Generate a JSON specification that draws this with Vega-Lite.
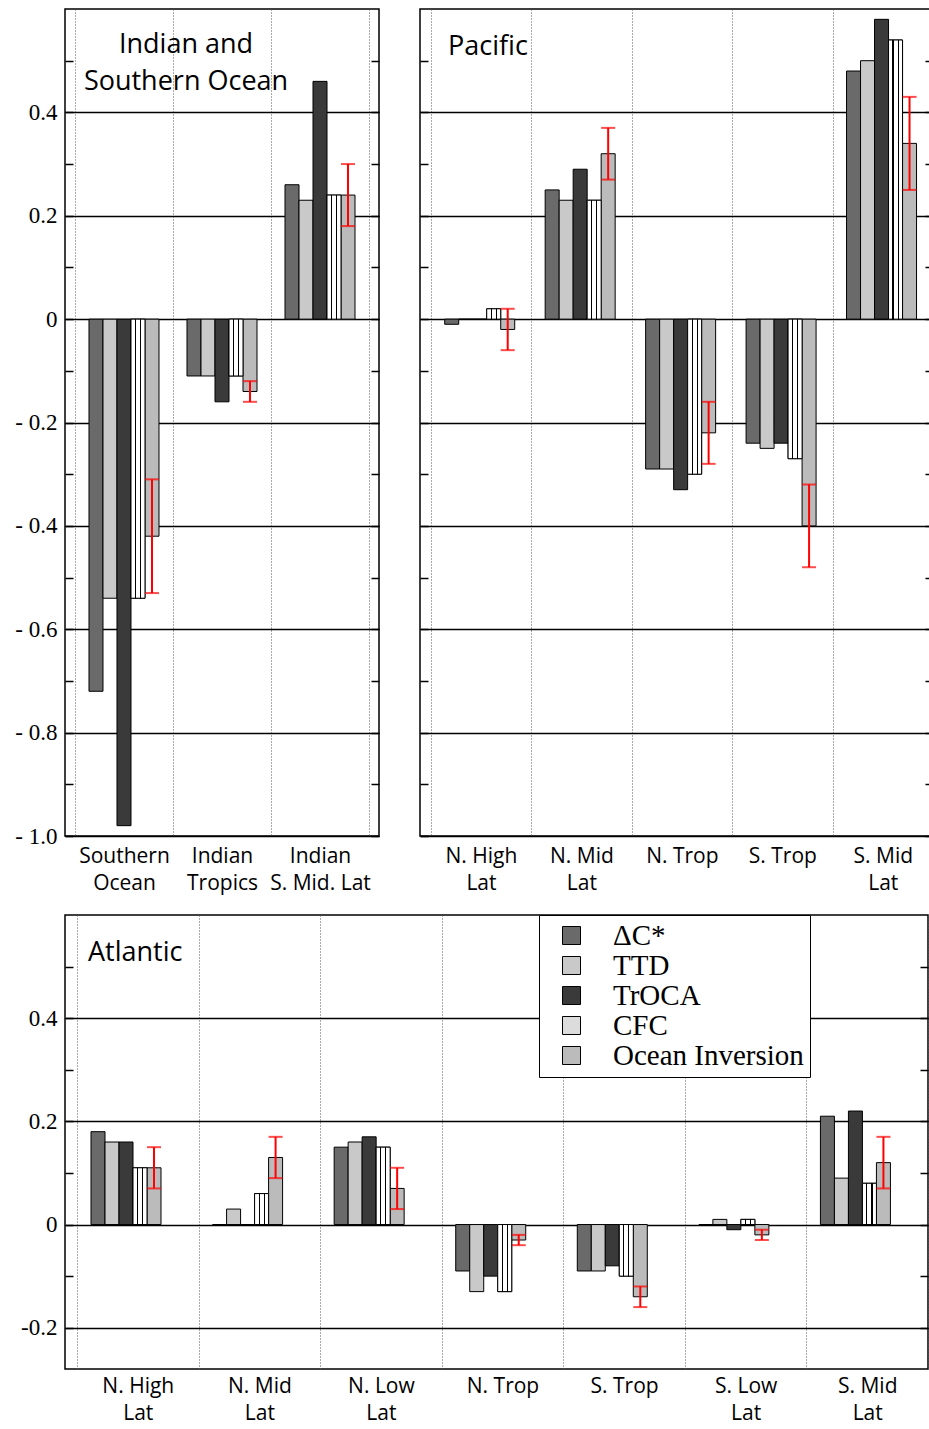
{
  "$schema": "https://vega.github.io/schema/vega-lite/v6.json",
  "padding": {"left": 14, "top": 8, "right": 0, "bottom": 0},
  "background": "#ffffff",
  "config": {
    "view": {"stroke": "#000000", "strokeWidth": 1.5},
    "font": "Open Sans",
    "axis": {"labelColor": "#000000", "tickColor": "#000000"}
  },
  "datasets": {
    "rows": [
      {"ocean": "Indian", "region": "Southern Ocean", "method": "ΔC*", "value": -0.72},
      {"ocean": "Indian", "region": "Southern Ocean", "method": "TTD", "value": -0.54},
      {"ocean": "Indian", "region": "Southern Ocean", "method": "TrOCA", "value": -0.98},
      {"ocean": "Indian", "region": "Southern Ocean", "method": "CFC", "value": -0.54},
      {"ocean": "Indian", "region": "Southern Ocean", "method": "Ocean Inversion", "value": -0.42, "lo": -0.53, "hi": -0.31},
      {"ocean": "Indian", "region": "Indian Tropics", "method": "ΔC*", "value": -0.11},
      {"ocean": "Indian", "region": "Indian Tropics", "method": "TTD", "value": -0.11},
      {"ocean": "Indian", "region": "Indian Tropics", "method": "TrOCA", "value": -0.16},
      {"ocean": "Indian", "region": "Indian Tropics", "method": "CFC", "value": -0.11},
      {"ocean": "Indian", "region": "Indian Tropics", "method": "Ocean Inversion", "value": -0.14, "lo": -0.16, "hi": -0.12},
      {"ocean": "Indian", "region": "Indian S. Mid. Lat", "method": "ΔC*", "value": 0.26},
      {"ocean": "Indian", "region": "Indian S. Mid. Lat", "method": "TTD", "value": 0.23},
      {"ocean": "Indian", "region": "Indian S. Mid. Lat", "method": "TrOCA", "value": 0.46},
      {"ocean": "Indian", "region": "Indian S. Mid. Lat", "method": "CFC", "value": 0.24},
      {"ocean": "Indian", "region": "Indian S. Mid. Lat", "method": "Ocean Inversion", "value": 0.24, "lo": 0.18, "hi": 0.30},

      {"ocean": "Pacific", "region": "N. High Lat", "method": "ΔC*", "value": -0.01},
      {"ocean": "Pacific", "region": "N. High Lat", "method": "TTD", "value": 0},
      {"ocean": "Pacific", "region": "N. High Lat", "method": "TrOCA", "value": 0},
      {"ocean": "Pacific", "region": "N. High Lat", "method": "CFC", "value": 0.02},
      {"ocean": "Pacific", "region": "N. High Lat", "method": "Ocean Inversion", "value": -0.02, "lo": -0.06, "hi": 0.02},
      {"ocean": "Pacific", "region": "N. Mid Lat", "method": "ΔC*", "value": 0.25},
      {"ocean": "Pacific", "region": "N. Mid Lat", "method": "TTD", "value": 0.23},
      {"ocean": "Pacific", "region": "N. Mid Lat", "method": "TrOCA", "value": 0.29},
      {"ocean": "Pacific", "region": "N. Mid Lat", "method": "CFC", "value": 0.23},
      {"ocean": "Pacific", "region": "N. Mid Lat", "method": "Ocean Inversion", "value": 0.32, "lo": 0.27, "hi": 0.37},
      {"ocean": "Pacific", "region": "N. Trop", "method": "ΔC*", "value": -0.29},
      {"ocean": "Pacific", "region": "N. Trop", "method": "TTD", "value": -0.29},
      {"ocean": "Pacific", "region": "N. Trop", "method": "TrOCA", "value": -0.33},
      {"ocean": "Pacific", "region": "N. Trop", "method": "CFC", "value": -0.30},
      {"ocean": "Pacific", "region": "N. Trop", "method": "Ocean Inversion", "value": -0.22, "lo": -0.28, "hi": -0.16},
      {"ocean": "Pacific", "region": "S. Trop", "method": "ΔC*", "value": -0.24},
      {"ocean": "Pacific", "region": "S. Trop", "method": "TTD", "value": -0.25},
      {"ocean": "Pacific", "region": "S. Trop", "method": "TrOCA", "value": -0.24},
      {"ocean": "Pacific", "region": "S. Trop", "method": "CFC", "value": -0.27},
      {"ocean": "Pacific", "region": "S. Trop", "method": "Ocean Inversion", "value": -0.40, "lo": -0.48, "hi": -0.32},
      {"ocean": "Pacific", "region": "S. Mid Lat", "method": "ΔC*", "value": 0.48},
      {"ocean": "Pacific", "region": "S. Mid Lat", "method": "TTD", "value": 0.50},
      {"ocean": "Pacific", "region": "S. Mid Lat", "method": "TrOCA", "value": 0.58},
      {"ocean": "Pacific", "region": "S. Mid Lat", "method": "CFC", "value": 0.54},
      {"ocean": "Pacific", "region": "S. Mid Lat", "method": "Ocean Inversion", "value": 0.34, "lo": 0.25, "hi": 0.43},

      {"ocean": "Atlantic", "region": "N. High Lat", "method": "ΔC*", "value": 0.18},
      {"ocean": "Atlantic", "region": "N. High Lat", "method": "TTD", "value": 0.16},
      {"ocean": "Atlantic", "region": "N. High Lat", "method": "TrOCA", "value": 0.16},
      {"ocean": "Atlantic", "region": "N. High Lat", "method": "CFC", "value": 0.11},
      {"ocean": "Atlantic", "region": "N. High Lat", "method": "Ocean Inversion", "value": 0.11, "lo": 0.07, "hi": 0.15},
      {"ocean": "Atlantic", "region": "N. Mid Lat", "method": "ΔC*", "value": 0},
      {"ocean": "Atlantic", "region": "N. Mid Lat", "method": "TTD", "value": 0.03},
      {"ocean": "Atlantic", "region": "N. Mid Lat", "method": "TrOCA", "value": 0},
      {"ocean": "Atlantic", "region": "N. Mid Lat", "method": "CFC", "value": 0.06},
      {"ocean": "Atlantic", "region": "N. Mid Lat", "method": "Ocean Inversion", "value": 0.13, "lo": 0.09, "hi": 0.17},
      {"ocean": "Atlantic", "region": "N. Low Lat", "method": "ΔC*", "value": 0.15},
      {"ocean": "Atlantic", "region": "N. Low Lat", "method": "TTD", "value": 0.16},
      {"ocean": "Atlantic", "region": "N. Low Lat", "method": "TrOCA", "value": 0.17},
      {"ocean": "Atlantic", "region": "N. Low Lat", "method": "CFC", "value": 0.15},
      {"ocean": "Atlantic", "region": "N. Low Lat", "method": "Ocean Inversion", "value": 0.07, "lo": 0.03, "hi": 0.11},
      {"ocean": "Atlantic", "region": "N. Trop", "method": "ΔC*", "value": -0.09},
      {"ocean": "Atlantic", "region": "N. Trop", "method": "TTD", "value": -0.13},
      {"ocean": "Atlantic", "region": "N. Trop", "method": "TrOCA", "value": -0.10},
      {"ocean": "Atlantic", "region": "N. Trop", "method": "CFC", "value": -0.13},
      {"ocean": "Atlantic", "region": "N. Trop", "method": "Ocean Inversion", "value": -0.03, "lo": -0.04, "hi": -0.02},
      {"ocean": "Atlantic", "region": "S. Trop", "method": "ΔC*", "value": -0.09},
      {"ocean": "Atlantic", "region": "S. Trop", "method": "TTD", "value": -0.09},
      {"ocean": "Atlantic", "region": "S. Trop", "method": "TrOCA", "value": -0.08},
      {"ocean": "Atlantic", "region": "S. Trop", "method": "CFC", "value": -0.10},
      {"ocean": "Atlantic", "region": "S. Trop", "method": "Ocean Inversion", "value": -0.14, "lo": -0.16, "hi": -0.12},
      {"ocean": "Atlantic", "region": "S. Low Lat", "method": "ΔC*", "value": 0},
      {"ocean": "Atlantic", "region": "S. Low Lat", "method": "TTD", "value": 0.01},
      {"ocean": "Atlantic", "region": "S. Low Lat", "method": "TrOCA", "value": -0.01},
      {"ocean": "Atlantic", "region": "S. Low Lat", "method": "CFC", "value": 0.01},
      {"ocean": "Atlantic", "region": "S. Low Lat", "method": "Ocean Inversion", "value": -0.02, "lo": -0.03, "hi": -0.01},
      {"ocean": "Atlantic", "region": "S. Mid Lat", "method": "ΔC*", "value": 0.21},
      {"ocean": "Atlantic", "region": "S. Mid Lat", "method": "TTD", "value": 0.09},
      {"ocean": "Atlantic", "region": "S. Mid Lat", "method": "TrOCA", "value": 0.22},
      {"ocean": "Atlantic", "region": "S. Mid Lat", "method": "CFC", "value": 0.08},
      {"ocean": "Atlantic", "region": "S. Mid Lat", "method": "Ocean Inversion", "value": 0.12, "lo": 0.07, "hi": 0.17}
    ]
  },
  "vconcat": [
    {
      "hconcat": [
        {
          "width": 314,
          "height": 827,
          "title": {"text": ["Indian and", "Southern Ocean"], "anchor": "start", "align": "center", "frame": "group", "dx": 121, "dy": 87, "offset": 0, "baseline": "top", "font": "Open Sans", "fontSize": 27, "fontWeight": "normal", "lineHeight": 37, "color": "#000000"},
          "data": {"name": "rows"},
          "transform": [{"filter": "datum.ocean == 'Indian'"}],
          "encoding": {
            "x": {"field": "region", "type": "nominal", "sort": ["Southern Ocean", "Indian Tropics", "Indian S. Mid. Lat"],
                  "scale": {"paddingInner": 0, "paddingOuter": 0.102},
                  "axis": {"title": null, "ticks": false, "domain": false, "grid": true, "gridDash": [1, 2], "gridColor": "#555555", "gridWidth": 1, "tickBand": "extent",
                           "labelAngle": 0, "labelFont": "Open Sans", "labelFontSize": 21, "labelLineHeight": 27, "labelPadding": 9, "labelColor": "#000000",
                           "labelExpr": "indexof(datum.label, ' ') > 0 ? [substring(datum.label, 0, indexof(datum.label, ' ')), substring(datum.label, indexof(datum.label, ' ') + 1)] : datum.label"}},
            "xOffset": {"field": "method", "type": "nominal", "scale": {"domain": ["ΔC*", "TTD", "TrOCA", "CFC", "Ocean Inversion"], "paddingInner": 0, "paddingOuter": 1.81}}
          },
          "layer": [
            {
              "mark": {"type": "bar", "stroke": "#000000", "strokeWidth": 1},
              "encoding": {
                "y": {"field": "value", "type": "quantitative", "scale": {"domain": [-1.0, 0.6], "nice": false, "zero": false},
                      "axis": {"orient": "left", "title": null, "domain": false, "minExtent": 0, "labelFlush": false, "labelOverlap": false,
                               "values": [-1, -0.9, -0.8, -0.7, -0.6, -0.5, -0.4, -0.3, -0.2, -0.1, 0, 0.1, 0.2, 0.3, 0.4, 0.5],
                               "tickSize": -8, "tickWidth": 1.5, "tickColor": "#000000",
                               "grid": true, "gridColor": "#000000", "gridWidth": 1.5,
                               "gridOpacity": {"condition": {"test": "abs(datum.value * 5 - round(datum.value * 5)) < 0.001", "value": 1}, "value": 0},
                               "labelFont": "Liberation Serif", "labelFontSize": 23, "labelPadding": 16, "labelColor": "#000000",
                               "labelExpr": "abs(datum.value * 5 - round(datum.value * 5)) < 0.001 ? (datum.value < -0.001 ? '- ' + format(-datum.value, '.1f') : (abs(datum.value) < 0.001 ? '0' : format(datum.value, '.1f'))) : ''"}},
                "fill": {"field": "method", "type": "nominal", "legend": null,
                         "scale": {"domain": ["ΔC*", "TTD", "TrOCA", "CFC", "Ocean Inversion"],
                                   "range": ["#6a6a6a", "#c9c9c9", "#3a3a3a", "#dcdcdc", "#bbbbbb"]}}
              }
            },
            {
              "transform": [{"filter": "datum.method == 'CFC'"}],
              "mark": {"type": "bar", "stroke": "#000000", "strokeWidth": 1,
                       "fill": {"gradient": "linear", "x1": 0, "y1": 0, "x2": 1, "y2": 0, "stops": [{"offset": 0, "color": "#ffffff"}, {"offset": 0.28, "color": "#ffffff"}, {"offset": 0.28, "color": "#000000"}, {"offset": 0.36, "color": "#000000"}, {"offset": 0.36, "color": "#ffffff"}, {"offset": 0.64, "color": "#ffffff"}, {"offset": 0.64, "color": "#000000"}, {"offset": 0.72, "color": "#000000"}, {"offset": 0.72, "color": "#ffffff"}, {"offset": 1, "color": "#ffffff"}]}},
              "encoding": {"y": {"field": "value", "type": "quantitative", "axis": null}}
            },
            {
              "transform": [{"filter": "datum.method == 'Ocean Inversion'"}],
              "mark": {"type": "rule", "color": "#ff0000", "strokeWidth": 2},
              "encoding": {
                "y": {"field": "lo", "type": "quantitative",
                      "axis": {"orient": "right", "title": null, "domain": false, "labels": false, "grid": false, "minExtent": 0,
                               "values": [-1, -0.9, -0.8, -0.7, -0.6, -0.5, -0.4, -0.3, -0.2, -0.1, 0, 0.1, 0.2, 0.3, 0.4, 0.5],
                               "tickSize": -8, "tickWidth": 1.5, "tickColor": "#000000"}},
                "y2": {"field": "hi"}
              }
            },
            {
              "transform": [{"filter": "datum.method == 'Ocean Inversion'"}],
              "mark": {"type": "tick", "orient": "horizontal", "color": "#ff0000", "thickness": 2, "size": 14},
              "encoding": {"y": {"field": "lo", "type": "quantitative", "axis": null}}
            },
            {
              "transform": [{"filter": "datum.method == 'Ocean Inversion'"}],
              "mark": {"type": "tick", "orient": "horizontal", "color": "#ff0000", "thickness": 2, "size": 14},
              "encoding": {"y": {"field": "hi", "type": "quantitative", "axis": null}}
            }
          ],
          "resolve": {"axis": {"y": "independent"}}
        },
        {
          "width": 513,
          "height": 827,
          "title": {"text": "Pacific", "anchor": "start", "align": "left", "frame": "group", "dx": 28, "dy": 52, "offset": 0, "baseline": "top", "font": "Open Sans", "fontSize": 27, "fontWeight": "normal", "color": "#000000"},
          "data": {"name": "rows"},
          "transform": [{"filter": "datum.ocean == 'Pacific'"}],
          "encoding": {
            "x": {"field": "region", "type": "nominal", "sort": ["N. High Lat", "N. Mid Lat", "N. Trop", "S. Trop", "S. Mid Lat"],
                  "scale": {"paddingInner": 0, "paddingOuter": 0.0533, "align": 1},
                  "axis": {"title": null, "ticks": false, "domain": false, "grid": true, "gridDash": [1, 2], "gridColor": "#555555", "gridWidth": 1, "tickBand": "extent",
                           "labelAngle": 0, "labelFont": "Open Sans", "labelFontSize": 21, "labelLineHeight": 27, "labelPadding": 9, "labelColor": "#000000",
                           "labelExpr": "indexof(datum.label, ' Lat') > 0 ? [substring(datum.label, 0, indexof(datum.label, ' Lat')), 'Lat'] : datum.label"}},
            "xOffset": {"field": "method", "type": "nominal", "scale": {"domain": ["ΔC*", "TTD", "TrOCA", "CFC", "Ocean Inversion"], "paddingInner": 0, "paddingOuter": 1.81}}
          },
          "layer": [
            {
              "mark": {"type": "bar", "stroke": "#000000", "strokeWidth": 1},
              "encoding": {
                "y": {"field": "value", "type": "quantitative", "scale": {"domain": [-1.0, 0.6], "nice": false, "zero": false},
                      "axis": {"orient": "left", "title": null, "domain": false, "labels": false, "minExtent": 0,
                               "values": [-1, -0.9, -0.8, -0.7, -0.6, -0.5, -0.4, -0.3, -0.2, -0.1, 0, 0.1, 0.2, 0.3, 0.4, 0.5],
                               "tickSize": -8, "tickWidth": 1.5, "tickColor": "#000000",
                               "grid": true, "gridColor": "#000000", "gridWidth": 1.5,
                               "gridOpacity": {"condition": {"test": "abs(datum.value * 5 - round(datum.value * 5)) < 0.001", "value": 1}, "value": 0}}},
                "fill": {"field": "method", "type": "nominal", "legend": null,
                         "scale": {"domain": ["ΔC*", "TTD", "TrOCA", "CFC", "Ocean Inversion"],
                                   "range": ["#6a6a6a", "#c9c9c9", "#3a3a3a", "#dcdcdc", "#bbbbbb"]}}
              }
            },
            {
              "transform": [{"filter": "datum.method == 'CFC'"}],
              "mark": {"type": "bar", "stroke": "#000000", "strokeWidth": 1,
                       "fill": {"gradient": "linear", "x1": 0, "y1": 0, "x2": 1, "y2": 0, "stops": [{"offset": 0, "color": "#ffffff"}, {"offset": 0.28, "color": "#ffffff"}, {"offset": 0.28, "color": "#000000"}, {"offset": 0.36, "color": "#000000"}, {"offset": 0.36, "color": "#ffffff"}, {"offset": 0.64, "color": "#ffffff"}, {"offset": 0.64, "color": "#000000"}, {"offset": 0.72, "color": "#000000"}, {"offset": 0.72, "color": "#ffffff"}, {"offset": 1, "color": "#ffffff"}]}},
              "encoding": {"y": {"field": "value", "type": "quantitative", "axis": null}}
            },
            {
              "transform": [{"filter": "datum.method == 'Ocean Inversion'"}],
              "mark": {"type": "rule", "color": "#ff0000", "strokeWidth": 2},
              "encoding": {
                "y": {"field": "lo", "type": "quantitative",
                      "axis": {"orient": "right", "title": null, "domain": false, "labels": false, "grid": false, "minExtent": 0,
                               "values": [-1, -0.9, -0.8, -0.7, -0.6, -0.5, -0.4, -0.3, -0.2, -0.1, 0, 0.1, 0.2, 0.3, 0.4, 0.5],
                               "tickSize": -8, "tickWidth": 1.5, "tickColor": "#000000"}},
                "y2": {"field": "hi"}
              }
            },
            {
              "transform": [{"filter": "datum.method == 'Ocean Inversion'"}],
              "mark": {"type": "tick", "orient": "horizontal", "color": "#ff0000", "thickness": 2, "size": 14},
              "encoding": {"y": {"field": "lo", "type": "quantitative", "axis": null}}
            },
            {
              "transform": [{"filter": "datum.method == 'Ocean Inversion'"}],
              "mark": {"type": "tick", "orient": "horizontal", "color": "#ff0000", "thickness": 2, "size": 14},
              "encoding": {"y": {"field": "hi", "type": "quantitative", "axis": null}}
            }
          ],
          "resolve": {"axis": {"y": "independent"}}
        }
      ],
      "spacing": 37
    },
    {
      "width": 863,
      "height": 454,
      "title": {"text": "Atlantic", "anchor": "start", "align": "left", "frame": "group", "dx": 23, "dy": 52, "offset": 0, "baseline": "top", "font": "Open Sans", "fontSize": 27, "fontWeight": "normal", "color": "#000000"},
      "data": {"name": "rows"},
      "transform": [{"filter": "datum.ocean == 'Atlantic'"}],
      "encoding": {
        "x": {"field": "region", "type": "nominal", "sort": ["N. High Lat", "N. Mid Lat", "N. Low Lat", "N. Trop", "S. Trop", "S. Low Lat", "S. Mid Lat"],
              "scale": {"paddingInner": 0, "paddingOuter": 0.0494, "align": 1},
              "axis": {"title": null, "ticks": false, "domain": false, "grid": true, "gridDash": [1, 2], "gridColor": "#555555", "gridWidth": 1, "tickBand": "extent",
                       "labelAngle": 0, "labelFont": "Open Sans", "labelFontSize": 21, "labelLineHeight": 27, "labelPadding": 6, "labelColor": "#000000",
                       "labelExpr": "indexof(datum.label, ' Lat') > 0 ? [substring(datum.label, 0, indexof(datum.label, ' Lat')), 'Lat'] : datum.label"}},
        "xOffset": {"field": "method", "type": "nominal", "scale": {"domain": ["ΔC*", "TTD", "TrOCA", "CFC", "Ocean Inversion"], "paddingInner": 0, "paddingOuter": 1.81}}
      },
      "layer": [
        {
          "mark": {"type": "bar", "stroke": "#000000", "strokeWidth": 1},
          "encoding": {
            "y": {"field": "value", "type": "quantitative", "scale": {"domain": [-0.28, 0.6], "nice": false, "zero": false},
                  "axis": {"orient": "left", "title": null, "domain": false, "minExtent": 0, "labelFlush": false, "labelOverlap": false,
                           "values": [-0.2, -0.1, 0, 0.1, 0.2, 0.3, 0.4, 0.5],
                           "tickSize": -8, "tickWidth": 1.5, "tickColor": "#000000",
                           "grid": true, "gridColor": "#000000", "gridWidth": 1.5,
                           "gridOpacity": {"condition": {"test": "abs(datum.value * 5 - round(datum.value * 5)) < 0.001", "value": 1}, "value": 0},
                           "labelFont": "Liberation Serif", "labelFontSize": 23, "labelPadding": 16, "labelColor": "#000000",
                           "labelExpr": "abs(datum.value * 5 - round(datum.value * 5)) < 0.001 ? (datum.value < -0.001 ? '-' + format(-datum.value, '.1f') : (abs(datum.value) < 0.001 ? '0' : format(datum.value, '.1f'))) : ''"}},
            "fill": {"field": "method", "type": "nominal",
                     "scale": {"domain": ["ΔC*", "TTD", "TrOCA", "CFC", "Ocean Inversion"],
                               "range": ["#6a6a6a", "#c9c9c9", "#3a3a3a", "#dcdcdc", "#bbbbbb"]},
                     "legend": {"orient": "none", "legendX": 474, "legendY": 0, "title": null, "fillColor": "#ffffff", "strokeColor": "#000000",
                                "padding": 6, "symbolType": "square", "symbolSize": 324, "symbolStrokeColor": "#000000", "symbolStrokeWidth": 1,
                                "symbolOffset": 12, "labelOffset": 27, "labelFont": "Liberation Serif", "labelFontSize": 29, "labelColor": "#000000",
                                "rowPadding": 0, "labelLimit": 400}}
          }
        },
        {
          "transform": [{"filter": "datum.method == 'CFC'"}],
          "mark": {"type": "bar", "stroke": "#000000", "strokeWidth": 1,
                   "fill": {"gradient": "linear", "x1": 0, "y1": 0, "x2": 1, "y2": 0, "stops": [{"offset": 0, "color": "#ffffff"}, {"offset": 0.28, "color": "#ffffff"}, {"offset": 0.28, "color": "#000000"}, {"offset": 0.36, "color": "#000000"}, {"offset": 0.36, "color": "#ffffff"}, {"offset": 0.64, "color": "#ffffff"}, {"offset": 0.64, "color": "#000000"}, {"offset": 0.72, "color": "#000000"}, {"offset": 0.72, "color": "#ffffff"}, {"offset": 1, "color": "#ffffff"}]}},
          "encoding": {"y": {"field": "value", "type": "quantitative", "axis": null}}
        },
        {
          "transform": [{"filter": "datum.method == 'Ocean Inversion'"}],
          "mark": {"type": "rule", "color": "#ff0000", "strokeWidth": 2},
          "encoding": {
            "y": {"field": "lo", "type": "quantitative",
                  "axis": {"orient": "right", "title": null, "domain": false, "labels": false, "grid": false, "minExtent": 0,
                           "values": [-0.2, -0.1, 0, 0.1, 0.2, 0.3, 0.4, 0.5],
                           "tickSize": -8, "tickWidth": 1.5, "tickColor": "#000000"}},
            "y2": {"field": "hi"}
          }
        },
        {
          "transform": [{"filter": "datum.method == 'Ocean Inversion'"}],
          "mark": {"type": "tick", "orient": "horizontal", "color": "#ff0000", "thickness": 2, "size": 14},
          "encoding": {"y": {"field": "lo", "type": "quantitative", "axis": null}}
        },
        {
          "transform": [{"filter": "datum.method == 'Ocean Inversion'"}],
          "mark": {"type": "tick", "orient": "horizontal", "color": "#ff0000", "thickness": 2, "size": 14},
          "encoding": {"y": {"field": "hi", "type": "quantitative", "axis": null}}
        }
      ],
      "resolve": {"axis": {"y": "independent"}}
    }
  ],
  "spacing": 19,
  "resolve": {"scale": {"fill": "independent"}, "legend": {"fill": "independent"}}
}
